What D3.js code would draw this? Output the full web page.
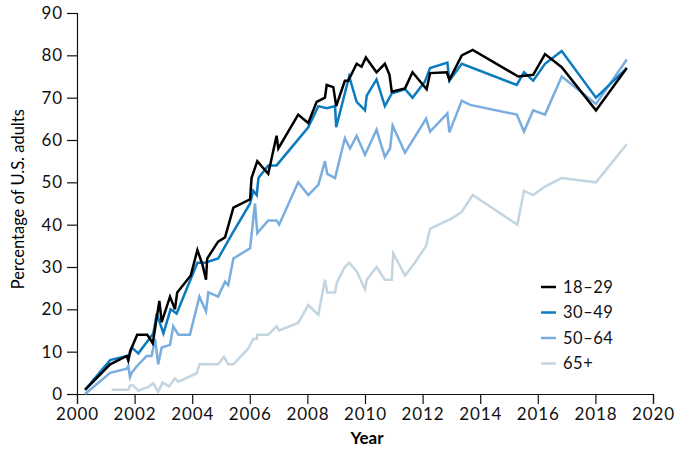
<!DOCTYPE html>
<html>
<head>
<meta charset="utf-8">
<script src="https://cdn.jsdelivr.net/npm/d3@7"></script>
<style>
  body { margin: 0; background: #fff; }
  svg { font-family: Lato, "Noto Sans", sans-serif; }
</style>
</head>
<body>
<svg id="chart"></svg>
<script>
// values, [years since 2000, percent]
const age1829 = [[0.28,1],[1.15,7],[1.73,9],[1.78,8],[1.84,10],[2.09,14],[2.44,14],[2.63,12],[2.86,22],[2.94,17],
  [3.23,23],[3.40,20],[3.48,24],[3.95,28],[4.18,34],[4.36,30.5],[4.48,27],[4.52,32],[4.90,36],[5.14,37],[5.43,44],
  [6.01,46],[6.06,51],[6.26,55],[6.64,52],[6.93,61],[6.99,58],[7.68,66],[8.03,64],[8.32,69],[8.61,70],[8.67,73],
  [8.9,72.5],[9.0,68],[9.3,74],[9.42,74],[9.71,78],[9.88,77.3],[10.03,79.5],[10.4,76],[10.69,78],[10.85,75.4],
  [10.93,71.4],[11.39,72.2],[11.65,76],[12.14,72],[12.26,75.8],[12.84,76],[12.93,74.2],[13.36,80],[13.74,81.3],
  [15.32,75],[15.84,75.4],[16.25,80.3],[16.83,77.2],[18.02,67],[19.09,77]];
const age3049 = [[0.28,1],[1.15,8],[1.73,9],[1.78,8],[1.90,11],[2.13,9.6],[2.44,12.4],[2.65,14.3],[2.77,19],[3.0,14.3],
  [3.25,20],[3.46,19],[4.18,31],[4.44,31],[4.90,32],[5.40,38],[6.01,45],[6.12,48],[6.24,47],[6.30,51],[6.64,54],
  [6.93,54],[8.03,63],[8.38,68],[8.67,67.5],[8.96,68],[9.0,63],[9.45,75],[9.71,69],[10.0,67],[10.06,70.5],[10.4,74.3],
  [10.69,68],[10.93,71],[11.39,72],[11.65,70],[12.08,73.8],[12.26,77],[12.86,78.3],[12.93,74],[13.36,78],[15.27,73],
  [15.52,76],[15.84,74],[16.25,78],[16.83,81],[18.02,70],[19.09,77]];
const age5064 = [[0.28,0],[1.15,5],[1.73,6],[1.78,6.6],[1.84,4],[1.90,5],[2.07,6.5],[2.42,9],[2.59,9],[2.71,13],[2.82,7],
  [2.94,11],[3.23,11.6],[3.34,16],[3.52,14],[3.92,14],[4.25,23],[4.48,19.5],[4.56,24],[4.90,23],[5.14,26.5],[5.25,25.7],
  [5.43,32],[6.01,34.4],[6.18,45],[6.26,38],[6.64,41],[6.93,41],[7.02,40],[7.68,50],[8.03,47],[8.38,49.4],[8.61,55],
  [8.69,52],[8.96,51],[9.3,60.4],[9.48,58],[9.71,61],[10.0,56.5],[10.4,62.4],[10.69,56],[10.87,58],[10.96,63.4],
  [11.39,57],[12.12,65],[12.26,62],[12.86,66.3],[12.93,61.8],[13.36,69.3],[13.65,68.3],[15.27,66],[15.52,62],
  [15.84,67],[16.25,66],[16.83,75],[18.02,68.5],[19.09,79]];
const age65 = [[1.20,1],[1.78,1],[1.84,2],[1.95,2],[2.13,0.8],[2.48,1.7],[2.65,2.5],[2.82,0.5],[2.97,2.7],[3.2,1.8],
  [3.40,3.7],[3.52,2.9],[4.16,4.9],[4.25,7],[4.90,7],[5.10,8.8],[5.25,7],[5.43,7],[5.95,10.8],[6.12,13],[6.24,13],
  [6.26,14],[6.64,14],[6.93,16],[7.02,15],[7.68,16.8],[8.03,21],[8.38,18.7],[8.61,27],[8.69,24],[8.96,24],[9.02,26.3],
  [9.3,30],[9.45,31],[9.71,29],[10.0,24.7],[10.06,27],[10.4,30],[10.69,27],[10.93,27],[10.98,33.2],[11.39,28],
  [11.68,30.5],[12.12,35],[12.26,39],[12.86,41],[12.95,41.2],[13.36,43],[13.74,47],[15.29,40],[15.52,48],[15.84,47],
  [16.25,49],[16.83,51],[18.02,50],[19.09,59]];

const groups = ["18–29", "30–49", "50–64", "65+"];
const colors = ["#000000", "#0c7bbf", "#79ade0", "#c3d5e0"];
const xTicks = d3.range(2000, 2021, 2);
const yTicks = d3.range(0, 91, 10);

const width = 680, height = 450;
const margin = {top: 13, right: 27, bottom: 56, left: 77};

const svg = d3.select("#chart").attr("width", width).attr("height", height);

const x = d3.scaleLinear().domain([2000, 2020]).range([margin.left, width - margin.right]);
const y = d3.scaleLinear().domain([0, 90]).range([height - margin.bottom, margin.top]);

const xAxis = svg.append("g")
  .attr("transform", `translate(0,${height - margin.bottom})`)
  .call(d3.axisBottom(x).tickValues(xTicks).tickFormat(d3.format("d")).tickSizeOuter(0).tickSize(10).tickPadding(4));
const yAxis = svg.append("g")
  .attr("transform", `translate(${margin.left},0)`)
  .call(d3.axisLeft(y).tickValues(yTicks).tickSizeOuter(0).tickSize(10).tickPadding(4));

[xAxis, yAxis].forEach(g => {
  g.selectAll("path, line").attr("stroke", "#111").attr("stroke-width", 1.2);
  g.selectAll("text").attr("fill", "#111")
    .style("font-size", "17px").style("letter-spacing", "0.9px")
    .style("font-family", "Lato, sans-serif");
});

svg.append("text")
  .attr("x", x(2010) + 2).attr("y", 444)
  .attr("text-anchor", "middle")
  .style("font-size", "17px").style("font-weight", "bold")
  .text("Year");

svg.append("text")
  .attr("transform", `translate(24,${y(46)}) rotate(-90)`)
  .attr("text-anchor", "middle")
  .style("font-size", "16.5px")
  .text("Percentage of U.S. adults");

const line = d3.line().x(d => x(2000 + d[0])).y(d => y(d[1]));
const series = [age1829, age3049, age5064, age65];

// draw light ones first so black sits on top
[3, 2, 1, 0].forEach(i => {
  svg.append("path")
    .datum(series[i])
    .attr("fill", "none")
    .attr("stroke", colors[i])
    .attr("stroke-width", 2.5)
    .attr("stroke-linejoin", "miter")
    .attr("d", line);
});

const legend = svg.append("g").attr("transform", "translate(541,287)");
groups.forEach((g, i) => {
  const row = legend.append("g").attr("transform", `translate(0,${i * 25.5})`);
  row.append("line").attr("x1", 0).attr("x2", 15).attr("stroke", colors[i]).attr("stroke-width", 2.5);
  row.append("text").attr("x", 22).attr("dy", "0.35em")
    .style("font-size", "16.5px").style("letter-spacing", "0.5px")
    .attr("fill", "#111").text(g);
});
</script>
</body>
</html>
